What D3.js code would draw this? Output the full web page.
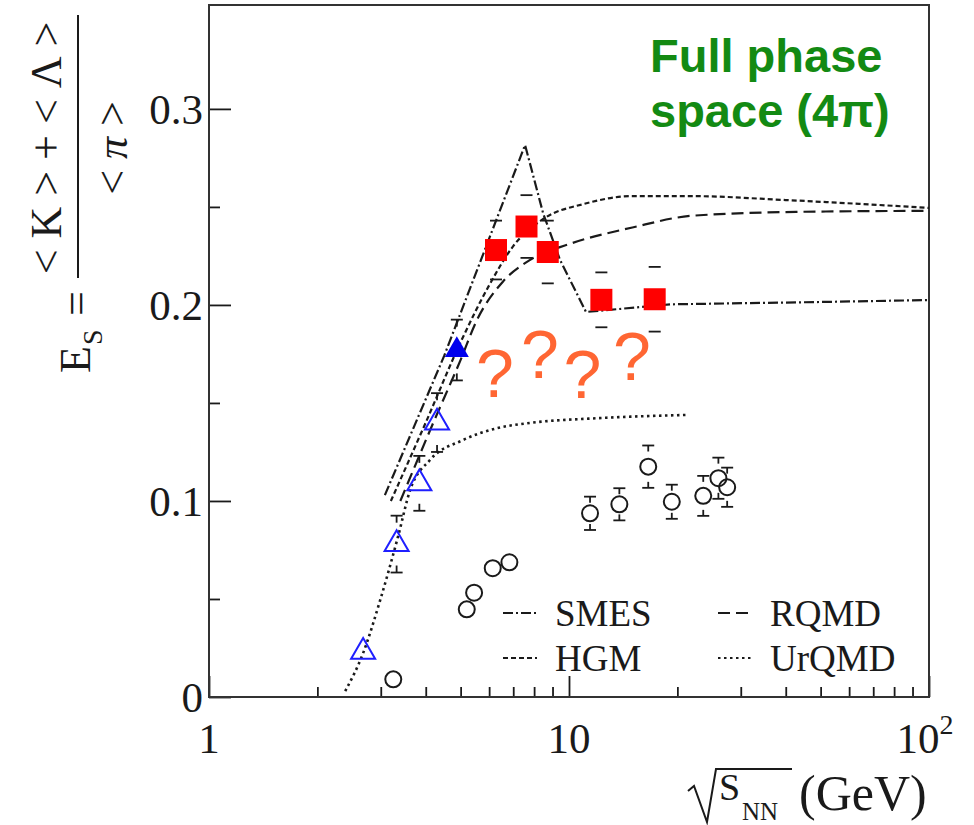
<!DOCTYPE html>
<html>
<head>
<meta charset="utf-8">
<script src="https://cdn.jsdelivr.net/npm/d3@7"></script>
<style>
  html, body { margin: 0; padding: 0; background: #fff; }
  svg { display: block; }
</style>
</head>
<body>
<svg id="chart" width="974" height="825"></svg>
<script>
// ---- //
// Data //
// ---- //

// red squares
const sqEnergy = [6.27, 7.62, 8.73, 12.3, 17.3];
const sqEs = [0.228, 0.240, 0.227, 0.2026, 0.2029];
const sqErr = [0.015, 0.016, 0.016, 0.014, 0.0165];

// open blue triangles
const triEnergy = [2.68, 3.32, 3.84, 4.3];
const triEs = [0.023, 0.078, 0.109, 0.140];
const triErr = [0, 0.0145, 0.014, 0.015];

// filled blue triangle
const triFullEnergy = [4.88];
const triFullEs = [0.177];
const triFullErr = [0.0155];

// open circles
const circEnergy = [3.25, 5.2, 5.45, 6.14, 6.83, 11.44, 13.8, 16.6, 19.3, 23.6, 26.0, 27.5];
const circEs = [0.009, 0.0447, 0.0532, 0.0657, 0.0687, 0.0937, 0.0983, 0.1175, 0.0996, 0.1026, 0.1116, 0.107];
const circErr = [0, 0, 0, 0, 0, 0.0085, 0.0082, 0.0108, 0.0087, 0.0102, 0.0105, 0.0100];

// model curves, [sqrt(s_NN), E_S]
const smesCurve = [[3.08, 0.103], [4.5, 0.174], [7.55, 0.2816], [8.48, 0.2466], [9.44, 0.223],
  [11.15, 0.1964], [19.1, 0.2003], [50, 0.2015], [100, 0.2025]];
const hgmCurve = [[3.2, 0.1], [4.0, 0.14], [5.0, 0.181], [6.0, 0.21], [7.0, 0.23], [8.5, 0.244],
  [11, 0.2515], [15, 0.2555], [22, 0.2555], [40, 0.2535], [100, 0.2495]];
const rqmdCurve = [[3.4, 0.1], [4.2, 0.14], [5.0, 0.172], [5.54, 0.192], [6.56, 0.212], [7.8, 0.223],
  [10, 0.231], [15, 0.2395], [22, 0.2455], [44, 0.2475], [100, 0.248]];
const urqmdCurve = [[2.39, 0.003], [2.68, 0.0224], [2.99, 0.0495], [3.35, 0.0818], [3.62, 0.1056],
  [4.11, 0.1209], [5.08, 0.1311], [6.3, 0.1371], [7.79, 0.1398], [11.94, 0.1422], [21.4, 0.1439]];

// question marks (energy, E_S at baseline)
const qmEnergy = [6.23, 8.3, 10.9, 14.96];
const qmEs = [0.153, 0.1628, 0.1526, 0.1617];

// axes
const xMajor = [1, 10, 100];
const xMinor = [2, 3, 4, 5, 6, 7, 8, 9, 20, 30, 40, 50, 60, 70, 80, 90];
const xLabelBase = ["1", "10", "10"];
const xLabelExp = ["", "", "2"];
const yMajor = [0, 0.1, 0.2, 0.3];
const yMinor = [0.05, 0.15, 0.25];
const yLabels = ["0", "0.1", "0.2", "0.3"];

const legendNames = ["SMES", "HGM", "RQMD", "UrQMD"];

// ------ //
// Scales //
// ------ //

const serif = "'Liberation Serif', 'Times New Roman', serif";
const sans = "'Liberation Sans', Arial, sans-serif";
const ink = "#1a1a1a";

const x = d3.scaleLog().domain([1, 100]).range([209, 929]);
const y = d3.scaleLinear().domain([0, 0.353]).range([697, 5]);

const dash = {
    SMES: "10,3,2,3",
    HGM: "5,3",
    RQMD: "12,6",
    UrQMD: "2.5,3.5"
};

const svg = d3.select("#chart");

// --------- //
// Rendering //
// --------- //

// ticks (drawn inward)
const axes = svg.append("g").attr("stroke", ink);
axes.append("g")
    .attr("transform", "translate(0,697)")
    .call(d3.axisBottom(x).tickValues(xMinor).tickSize(-10).tickFormat(""));
axes.append("g")
    .attr("transform", "translate(0,697)")
    .call(d3.axisBottom(x).tickValues(xMajor).tickSize(-21).tickFormat(""));
axes.append("g")
    .attr("transform", "translate(209,0)")
    .call(d3.axisLeft(y).tickValues(yMinor).tickSize(-11).tickFormat(""));
axes.append("g")
    .attr("transform", "translate(209,0)")
    .call(d3.axisLeft(y).tickValues(yMajor).tickSize(-22).tickFormat(""));
axes.selectAll(".domain").remove();
axes.selectAll(".tick line").attr("stroke", ink).attr("stroke-width", 1.8);

// frame
svg.append("rect")
    .attr("x", x.range()[0]).attr("y", y.range()[1])
    .attr("width", x.range()[1] - x.range()[0])
    .attr("height", y.range()[0] - y.range()[1])
    .attr("fill", "none").attr("stroke", "#333").attr("stroke-width", 2);

// tick labels
const xl = svg.append("g")
    .attr("font-family", serif).attr("font-size", 43).attr("fill", ink)
    .selectAll("text")
    .data(xMajor)
    .join("text")
    .attr("x", (d, i) => x(d) - (xLabelExp[i] ? 4 : 0))
    .attr("y", 753)
    .attr("text-anchor", "middle");
xl.append("tspan").text((d, i) => xLabelBase[i]);
xl.append("tspan")
    .attr("font-size", 28).attr("dy", -19)
    .text((d, i) => xLabelExp[i]);

svg.append("g")
    .attr("font-family", serif).attr("font-size", 43).attr("fill", ink)
    .selectAll("text")
    .data(yMajor)
    .join("text")
    .attr("x", 203)
    .attr("y", d => y(d))
    .attr("dy", "0.34em")
    .attr("text-anchor", "end")
    .text((d, i) => yLabels[i]);

// x title: sqrt(s_NN) (GeV)
svg.append("path")
    .attr("d", "M688,791 L694,786 L707,822 L716,769 L792,769")
    .attr("fill", "none").attr("stroke", ink).attr("stroke-width", 2);
const xt = svg.append("g").attr("font-family", serif).attr("fill", ink);
xt.append("text").attr("x", 719).attr("y", 800).attr("font-size", 38).text("S");
xt.append("text").attr("x", 742).attr("y", 820).attr("font-size", 25).text("NN");
xt.append("text").attr("x", 799).attr("y", 810).attr("font-size", 50).text("(GeV)");

// y title: E_S = (<K> + <Λ>) / <π>
const yt = svg.append("g")
    .attr("transform", "rotate(-90)")
    .attr("font-family", serif).attr("fill", ink);
yt.append("text").attr("x", -373).attr("y", 90).attr("font-size", 44).text("E");
yt.append("text").attr("x", -345).attr("y", 102).attr("font-size", 28).text("S");
yt.append("text").attr("x", -316).attr("y", 91).attr("font-size", 44).text("=");
yt.append("text").attr("x", -148).attr("y", 61).attr("font-size", 44)
    .attr("text-anchor", "middle").text("< K > + < Λ >");
yt.append("line").attr("x1", -278).attr("x2", -15).attr("y1", 78).attr("y2", 78)
    .attr("stroke", ink).attr("stroke-width", 2);
const den = yt.append("text").attr("x", -148).attr("y", 127).attr("font-size", 44)
    .attr("text-anchor", "middle");
den.append("tspan").text("< ");
den.append("tspan").attr("font-style", "italic").text("π");
den.append("tspan").text(" >");

// model curves
const line = d3.line().x(d => x(d[0])).y(d => y(d[1]));
const curves = [
    { name: "SMES", pts: smesCurve, curve: d3.curveLinear },
    { name: "HGM", pts: hgmCurve, curve: d3.curveMonotoneX },
    { name: "RQMD", pts: rqmdCurve, curve: d3.curveMonotoneX },
    { name: "UrQMD", pts: urqmdCurve, curve: d3.curveMonotoneX }
];
svg.append("g")
    .selectAll("path")
    .data(curves)
    .join("path")
    .attr("d", c => line.curve(c.curve)(c.pts))
    .attr("fill", "none")
    .attr("stroke", ink)
    .attr("stroke-width", c => c.name === "UrQMD" ? 2.6 : 2.2)
    .attr("stroke-dasharray", c => dash[c.name]);

// error caps, optional little stub pointing to the point
function caps(energy, es, err, stub) {
    const g = svg.append("g").attr("stroke", ink).attr("stroke-width", 1.8);
    energy.forEach((e, i) => {
        if (!err[i]) return;
        const cx = x(e);
        [[es[i] + err[i], 1], [es[i] - err[i], -1]].forEach(([v, dir]) => {
            const cy = y(v);
            g.append("line").attr("x1", cx - 6).attr("x2", cx + 6).attr("y1", cy).attr("y2", cy);
            if (stub) g.append("line").attr("x1", cx).attr("x2", cx).attr("y1", cy).attr("y2", cy + dir * stub);
        });
    });
}
caps(sqEnergy, sqEs, sqErr, 0);
caps(triEnergy, triEs, triErr, 7);
caps(triFullEnergy, triFullEs, triFullErr, 7);
caps(circEnergy, circEs, circErr, 6);

// markers
const tri = d3.symbol().type(d3.symbolTriangle).size(250);
svg.append("g")
    .selectAll("path")
    .data(triEnergy)
    .join("path")
    .attr("transform", (d, i) => `translate(${x(d)},${y(triEs[i])})`)
    .attr("d", tri)
    .attr("fill", "none").attr("stroke", "#1f1fff").attr("stroke-width", 2);
svg.append("g")
    .selectAll("path")
    .data(triFullEnergy)
    .join("path")
    .attr("transform", (d, i) => `translate(${x(d)},${y(triFullEs[i])})`)
    .attr("d", tri)
    .attr("fill", "#0000ee");
svg.append("g")
    .selectAll("circle")
    .data(circEnergy)
    .join("circle")
    .attr("cx", d => x(d))
    .attr("cy", (d, i) => y(circEs[i]))
    .attr("r", 8)
    .attr("fill", "none").attr("stroke", ink).attr("stroke-width", 2);
svg.append("g")
    .selectAll("path")
    .data(sqEnergy)
    .join("path")
    .attr("transform", (d, i) => `translate(${x(d)},${y(sqEs[i])})`)
    .attr("d", d3.symbol().type(d3.symbolSquare).size(22 * 22))
    .attr("fill", "#ff0000");

// question marks
svg.append("g")
    .attr("font-family", sans).attr("font-size", 68).attr("fill", "#ff6633")
    .selectAll("text")
    .data(qmEnergy)
    .join("text")
    .attr("x", d => x(d))
    .attr("y", (d, i) => y(qmEs[i]))
    .attr("text-anchor", "middle")
    .text("?");

// legend
const legend = svg.append("g")
    .selectAll("g")
    .data(legendNames)
    .join("g")
    .attr("transform", (d, i) => `translate(${i < 2 ? 503 : 718},${i % 2 ? 658 : 613})`);
legend.append("line")
    .attr("x1", 0).attr("x2", 34)
    .attr("stroke", ink).attr("stroke-width", 2)
    .attr("stroke-dasharray", d => dash[d]);
legend.append("text")
    .attr("x", 52).attr("y", 13)
    .attr("font-family", serif).attr("font-size", 37).attr("fill", ink)
    .text(d => d);

// annotation
const note = svg.append("text")
    .attr("font-family", sans).attr("font-weight", "bold")
    .attr("font-size", 47).attr("fill", "#138a13");
note.append("tspan").attr("x", 650).attr("y", 72).text("Full phase");
note.append("tspan").attr("x", 650).attr("y", 127).text("space (4π)");
</script>
</body>
</html>
